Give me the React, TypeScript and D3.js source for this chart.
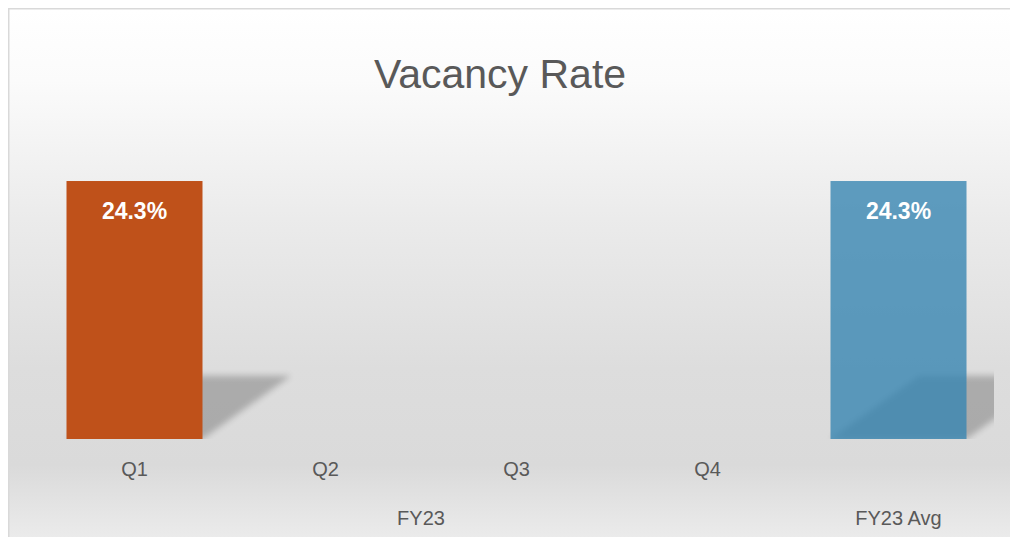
import React from "react";
import * as d3 from "d3";

const categories = ["Q1", "Q2", "Q3", "Q4", "FY23 Avg"];
const values: (number | null)[] = [0.243, null, null, null, 0.243];
const barColors = ["#BF511A", "#BF511A", "#BF511A", "#BF511A", "#3886B2"];
const barOpacity = [1, 1, 1, 1, 0.8];
const groups = [
  { label: "FY23", from: "Q1", to: "Q4" },
  { label: "FY23 Avg", from: "FY23 Avg", to: "FY23 Avg" },
];
const innerLabels = ["Q1", "Q2", "Q3", "Q4", ""];
const title = "Vacancy Rate";

export default function App() {
  const W = 1010;
  const H = 537;
  const font = "'Liberation Sans', Arial, sans-serif";
  const x = d3.scaleBand<string>().domain(categories).range([39, 994]).paddingInner(0.288).paddingOuter(0.144);
  const y = d3.scaleLinear().domain([0, 0.3]).range([439, 120.5]);
  const y0 = y(0);
  const fmt = d3.format(".1%");

  return (
    <svg width={W} height={H} style={{ position: "absolute", left: 0, top: 0 }}>
      <defs>
        <linearGradient id="bg" x1="0" y1="0" x2="0" y2="1">
          <stop offset="0" stopColor="#FFFFFF" />
          <stop offset="0.12" stopColor="#FBFBFB" />
          <stop offset="0.35" stopColor="#EBEBEB" />
          <stop offset="0.6" stopColor="#DDDDDD" />
          <stop offset="0.76" stopColor="#DADADA" />
          <stop offset="0.86" stopColor="#E8E8E8" />
          <stop offset="1" stopColor="#FCFCFC" />
        </linearGradient>
        <filter id="blur" x="-20%" y="-50%" width="140%" height="200%">
          <feGaussianBlur stdDeviation="3" />
        </filter>
        <clipPath id="plotClip">
          <rect x={39} y={100} width={955} height={339} />
        </clipPath>
      </defs>
      <rect x={8.75} y={8.75} width={1100} height={600} fill="url(#bg)" stroke="#D9D9D9" strokeWidth={1.5} />
      <text x={500} y={88} textAnchor="middle" fontFamily={font} fontSize={41} fill="#595959">
        {title}
      </text>
      <g clipPath="url(#plotClip)">
        {categories.map((c, i) => {
          const v = values[i];
          if (v == null) return null;
          const bx = x(c)!;
          const bw = x.bandwidth();
          const top = y(v);
          const sh = (y0 - top) * 0.245;
          const skew = sh * 1.4;
          const pts = [
            [bx, y0],
            [bx + bw, y0],
            [bx + bw + skew, y0 - sh],
            [bx + skew, y0 - sh],
          ];
          return (
            <polygon
              key={"s" + c}
              points={pts.map((p) => p.join(",")).join(" ")}
              fill="#000"
              opacity={0.22}
              filter="url(#blur)"
            />
          );
        })}
      </g>
      {categories.map((c, i) => {
        const v = values[i];
        if (v == null) return null;
        const bx = x(c)!;
        const bw = x.bandwidth();
        const top = y(v);
        return (
          <g key={"b" + c}>
            <rect x={bx} y={top} width={bw} height={y0 - top} fill={barColors[i]} opacity={barOpacity[i]} />
            <text
              x={bx + bw / 2}
              y={top + 38}
              textAnchor="middle"
              fontFamily={font}
              fontWeight="bold"
              fontSize={23}
              fill="#FFFFFF"
            >
              {fmt(v)}
            </text>
          </g>
        );
      })}
      {categories.map((c, i) =>
        innerLabels[i] ? (
          <text
            key={"l" + c}
            x={x(c)! + x.bandwidth() / 2}
            y={476}
            textAnchor="middle"
            fontFamily={font}
            fontSize={20}
            fill="#595959"
          >
            {innerLabels[i]}
          </text>
        ) : null
      )}
      {groups.map((g) => {
        const a = x(g.from)! + x.bandwidth() / 2;
        const b = x(g.to)! + x.bandwidth() / 2;
        return (
          <text
            key={"g" + g.label}
            x={(a + b) / 2}
            y={525}
            textAnchor="middle"
            fontFamily={font}
            fontSize={20}
            fill="#595959"
          >
            {g.label}
          </text>
        );
      })}
    </svg>
  );
}
